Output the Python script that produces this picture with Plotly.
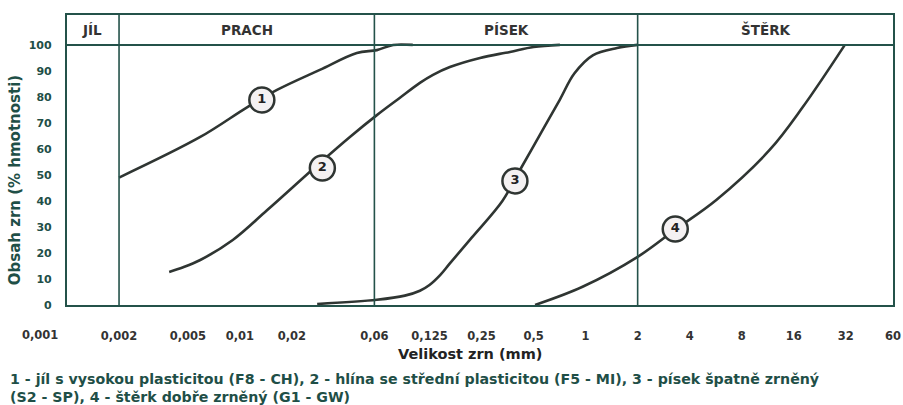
import math
import plotly.graph_objects as go

# Grain size distribution curves: particle size (mm) vs. cumulative passing (% by mass)
size_1 = [0.002, 0.0059, 0.011, 0.0164, 0.029, 0.0475, 0.062, 0.077, 0.1]
pass_1 = [49, 64.6, 76, 82.7, 90.4, 96.9, 98, 100, 100]

size_2 = [0.0039, 0.0047, 0.0059, 0.0091, 0.0144, 0.029, 0.0433, 0.062, 0.084,
          0.11, 0.131, 0.164, 0.245, 0.365, 0.5, 0.71]
pass_2 = [12.7, 14.5, 17.3, 25, 36.5, 54.6, 64.6, 73, 79.6,
          85.4, 88.5, 91.5, 95, 97.3, 99.2, 100]

size_3 = [0.028, 0.062, 0.09, 0.11, 0.125, 0.144, 0.164, 0.22, 0.33, 0.417,
          0.55, 0.71, 0.86, 1.1, 1.52, 2.0]
pass_3 = [0.4, 2, 3.6, 5.5, 7.7, 11.5, 16, 26, 40, 51.9,
          66, 79, 89, 96, 98.8, 100]

size_4 = [0.51, 0.96, 2.0, 3.3, 5.7, 11.6, 18, 31.6]
pass_4 = [0, 7, 18.5, 29, 40.4, 59.6, 76, 100]

# Circled curve numbers
label_names = ["1", "2", "3", "4"]
label_size = [0.0134, 0.030, 0.39, 3.3]
label_pass = [78.8, 52.7, 47.7, 29.2]

# Fraction boundaries and names
bounds = [0.002, 0.06, 2]
fraction_names = ["JÍL", "PRACH", "PÍSEK", "ŠTĚRK"]
fraction_centers = [0.0014, 0.011, 0.35, 11]

tick_vals = [0.002, 0.005, 0.01, 0.02, 0.06, 0.125, 0.25, 0.5, 1, 2, 4, 8, 16, 32, 60]
tick_text = ["0,002", "0,005", "0,01", "0,02", "0,06", "0,125", "0,25", "0,5",
             "1", "2", "4", "8", "16", "32", "60"]
y_ticks = list(range(0, 101, 10))

caption_lines = [
    "1 - jíl s vysokou plasticitou (F8 - CH), 2 - hlína se střední plasticitou (F5 - MI), "
    "3 - písek špatně zrněný",
    "(S2 - SP), 4 - štěrk dobře zrněný (G1 - GW)",
]

FRAME = "#24524a"
CURVE = "#2f3532"
TEXT = "#1f4f47"
FONT = "DejaVu Sans"

fig = go.Figure()

for xs, ys in [(size_1, pass_1), (size_2, pass_2), (size_3, pass_3), (size_4, pass_4)]:
    fig.add_trace(go.Scatter(x=xs, y=ys, mode="lines",
                             line=dict(color=CURVE, width=2.6, shape="spline", smoothing=1),
                             showlegend=False, hoverinfo="skip"))

fig.add_trace(go.Scatter(
    x=label_size, y=label_pass, mode="markers+text", text=label_names,
    textposition="middle center",
    textfont=dict(family=FONT, size=13, color="#222", weight="bold"),
    marker=dict(size=25, color="#f4f1f2", line=dict(color=CURVE, width=2.5)),
    showlegend=False, hoverinfo="skip"))

shapes = []
# Header separator at 100 %
shapes.append(dict(type="line", xref="paper", yref="y", x0=0, x1=1, y0=100, y1=100,
                   line=dict(color=FRAME, width=2)))
for b in bounds:
    shapes.append(dict(type="line", xref="x", yref="paper", x0=b, x1=b, y0=0, y1=1,
                       line=dict(color=FRAME, width=1.6)))
fig.update_layout(shapes=shapes)

annotations = []
for name, xc in zip(fraction_names, fraction_centers):
    annotations.append(dict(x=math.log10(xc), y=105.8, xref="x", yref="y",
                            text=name, showarrow=False,
                            font=dict(family=FONT, size=13.5, color="#333", weight="bold")))
# Lowest size label sits left of the frame
annotations.append(dict(x=-3, y=0, xref="x", yref="y", text="0,001", showarrow=False,
                        xshift=-27, yshift=-30,
                        font=dict(family=FONT, size=11.5, color="#333", weight="bold")))
annotations.append(dict(x=-0.063, y=0.43, xref="paper", yref="paper",
                        xanchor="center", yanchor="middle",
                        text="Obsah zrn (% hmotnosti)", textangle=-90, showarrow=False,
                        font=dict(family=FONT, size=15, color=TEXT, weight="bold")))
annotations.append(dict(x=0.488, y=-0.169, xref="paper", yref="paper",
                        xanchor="center", yanchor="middle",
                        text="Velikost zrn (mm)", showarrow=False,
                        font=dict(family=FONT, size=14.5, color="#222", weight="bold")))
for line, ypos in zip(caption_lines, [-0.2552, -0.3172]):
    annotations.append(dict(x=-0.0714, y=ypos, xref="paper", yref="paper", xanchor="left",
                            yanchor="middle", align="left", text=line, showarrow=False,
                            font=dict(family=FONT, size=14.2, color=TEXT, weight="bold")))
fig.update_layout(annotations=annotations)

fig.update_xaxes(type="log", range=[-3, 1.77815], tickvals=tick_vals, ticktext=tick_text,
                 showgrid=False, zeroline=False, showline=True, mirror=True,
                 linecolor=FRAME, linewidth=2.2, ticks="", ticklabelstandoff=19,
                 automargin=False,
                 tickfont=dict(family=FONT, size=11.5, color="#333", weight="bold"))
fig.update_yaxes(range=[0, 111.5], tickvals=y_ticks, showgrid=False, zeroline=False,
                 showline=True, mirror=True, linecolor=FRAME, linewidth=2.2, ticks="",
                 ticklabelstandoff=11, automargin=False,
                 tickfont=dict(family=FONT, size=11, color=TEXT, weight="bold"))

fig.update_layout(width=903, height=405, margin=dict(l=67, r=10, t=15, b=100),
                  paper_bgcolor="white", plot_bgcolor="white", showlegend=False)

fig.write_html("out.html")
